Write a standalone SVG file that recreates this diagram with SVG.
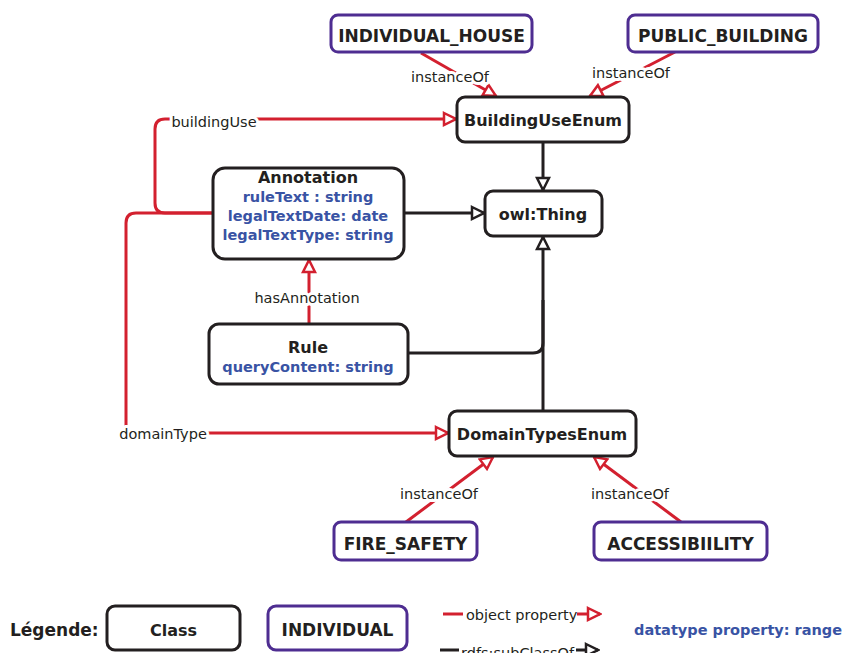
<svg xmlns="http://www.w3.org/2000/svg" width="842" height="653" viewBox="0 0 842 653">
  <style>
    .cls { fill: #fff; stroke: #231f20; stroke-width: 3; }
    .ind { fill: #fff; stroke: #4e2d91; stroke-width: 3; }
    .name { font-family: "DejaVu Sans", Verdana, sans-serif; font-weight: bold; font-size: 16px; fill: #231f20; text-anchor: middle; }
    .iname { font-size: 17px; }
    .attr { font-family: "DejaVu Sans", Verdana, sans-serif; font-weight: bold; font-size: 14.5px; fill: #3953a4; text-anchor: middle; }
    .lbl { font-family: "DejaVu Sans", Verdana, sans-serif; font-size: 14.5px; fill: #231f20; text-anchor: middle; stroke: #fff; stroke-width: 6; stroke-linejoin: round; paint-order: stroke; }
    .obj { fill: none; stroke: #d3202f; stroke-width: 3; }
    .sub { fill: none; stroke: #231f20; stroke-width: 3; }
  </style>
  <defs>
    <marker id="arrObj" viewBox="0 0 16 16" refX="14" refY="8" markerWidth="16" markerHeight="16" orient="auto" markerUnits="userSpaceOnUse">
      <path d="M2,2 L14,8 L2,14 Z" fill="#fff" stroke="#d3202f" stroke-width="2.5" stroke-linejoin="miter"/>
    </marker>
    <marker id="arrSub" viewBox="0 0 16 16" refX="14" refY="8" markerWidth="16" markerHeight="16" orient="auto" markerUnits="userSpaceOnUse">
      <path d="M2,2 L14,8 L2,14 Z" fill="#fff" stroke="#231f20" stroke-width="2.5" stroke-linejoin="miter"/>
    </marker>
  </defs>
  <rect width="842" height="653" fill="#fff"/>

  <!-- connectors -->
  <g id="connectors">
    <!-- subclass links to owl:Thing -->
    <path class="sub" d="M543,142 V190" marker-end="url(#arrSub)"/>
    <path class="sub" d="M404,213 H484" marker-end="url(#arrSub)"/>
    <path class="sub" d="M543,411 V237" marker-end="url(#arrSub)"/>
    <path class="sub" d="M408,353 H533 Q543,353 543,343 V300"/>

    <!-- object properties -->
    <path class="obj" d="M213,213 H165 Q155,213 155,203 V129 Q155,119 165,119 H456" marker-end="url(#arrObj)"/>
    <path class="obj" d="M213,213 H136 Q126,213 126,223 V433 H448" marker-end="url(#arrObj)"/>
    <path class="obj" d="M309,324 V260" marker-end="url(#arrObj)"/>

    <!-- instanceOf links -->
    <path class="obj" d="M421,53 L496,96" marker-end="url(#arrObj)"/>
    <path class="obj" d="M675,52 L590,96" marker-end="url(#arrObj)"/>
    <path class="obj" d="M406,522 L493,457" marker-end="url(#arrObj)"/>
    <path class="obj" d="M681,522 L594,457" marker-end="url(#arrObj)"/>

    <!-- labels -->
    <text class="lbl" x="214" y="127">buildingUse</text>
    <text class="lbl" x="163" y="439">domainType</text>
    <text class="lbl" x="307" y="303">hasAnnotation</text>
    <text class="lbl" x="450" y="82">instanceOf</text>
    <text class="lbl" x="631" y="78">instanceOf</text>
    <text class="lbl" x="439" y="499">instanceOf</text>
    <text class="lbl" x="630" y="499">instanceOf</text>
  </g>

  <!-- classes -->
  <g id="BuildingUseEnum">
    <rect class="cls" x="457" y="97" width="172" height="45" rx="8"/>
    <text class="name" x="543" y="126">BuildingUseEnum</text>
  </g>
  <g id="owlThing">
    <rect class="cls" x="485" y="191" width="117" height="45" rx="8"/>
    <text class="name" x="543" y="220">owl:Thing</text>
  </g>
  <g id="Annotation">
    <rect class="cls" x="213" y="168" width="191" height="91" rx="12"/>
    <text class="name" x="308" y="183">Annotation</text>
    <text class="attr" x="308" y="202">ruleText : string</text>
    <text class="attr" x="308" y="221">legalTextDate: date</text>
    <text class="attr" x="308" y="240">legalTextType: string</text>
  </g>
  <g id="Rule">
    <rect class="cls" x="209" y="324" width="199" height="60" rx="10"/>
    <text class="name" x="308" y="353">Rule</text>
    <text class="attr" x="308" y="372">queryContent: string</text>
  </g>
  <g id="DomainTypesEnum">
    <rect class="cls" x="449" y="411" width="187" height="45" rx="8"/>
    <text class="name" x="542" y="440">DomainTypesEnum</text>
  </g>

  <!-- individuals -->
  <g id="INDIVIDUAL_HOUSE">
    <rect class="ind" x="331" y="15" width="201" height="37" rx="7"/>
    <text class="name iname" x="431.5" y="42">INDIVIDUAL_HOUSE</text>
  </g>
  <g id="PUBLIC_BUILDING">
    <rect class="ind" x="628" y="15" width="190" height="37" rx="7"/>
    <text class="name iname" x="723" y="42">PUBLIC_BUILDING</text>
  </g>
  <g id="FIRE_SAFETY">
    <rect class="ind" x="334" y="522" width="143" height="38" rx="7"/>
    <text class="name iname" x="405.5" y="550">FIRE_SAFETY</text>
  </g>
  <g id="ACCESSIBIILITY">
    <rect class="ind" x="594" y="522" width="173" height="38" rx="7"/>
    <text class="name iname" x="680.5" y="550">ACCESSIBIILITY</text>
  </g>

  <!-- legend -->
  <g id="legend">
    <text class="name" x="10" y="636" style="text-anchor:start;font-size:17px">Légende:</text>
    <rect class="cls" x="107" y="606" width="133" height="44" rx="8"/>
    <text class="name" x="173.5" y="636">Class</text>
    <rect class="ind" x="268" y="606" width="139" height="44" rx="8"/>
    <text class="name iname" x="337.5" y="636">INDIVIDUAL</text>
    <path class="obj" d="M443,614 H463"/>
    <text class="lbl" x="466" y="620" style="text-anchor:start;stroke:none">object property</text>
    <path class="obj" d="M577,614 H600" marker-end="url(#arrObj)"/>
    <path class="sub" d="M440,650 H459"/>
    <text class="lbl" x="461" y="658" style="text-anchor:start;stroke:none">rdfs:subClassOf</text>
    <path class="sub" d="M576,650 H598" marker-end="url(#arrSub)"/>
    <text class="attr" x="634" y="635" style="text-anchor:start">datatype property: range</text>
  </g>
</svg>
